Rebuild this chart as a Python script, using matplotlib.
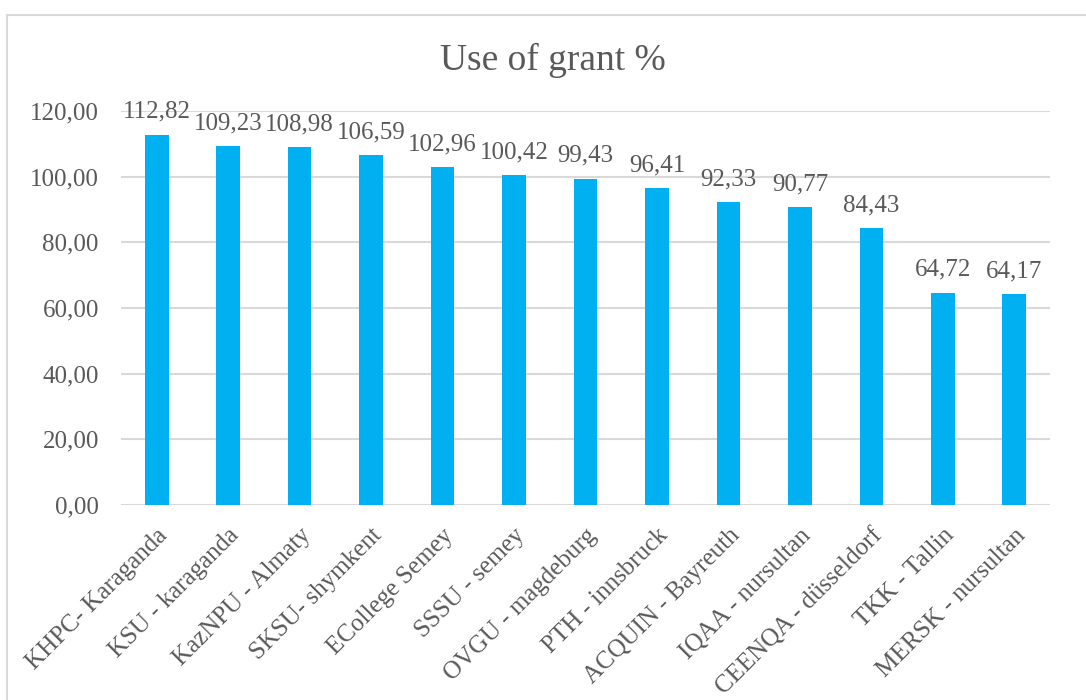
import matplotlib.pyplot as plt
from matplotlib.patches import Rectangle

institutions = ['KHPC- Karaganda', 'KSU - karaganda', 'KazNPU - Almaty', 'SKSU- shymkent',
                'ECollege Semey', 'SSSU - semey', 'OVGU - magdeburg', 'PTH - innsbruck',
                'ACQUIN - Bayreuth', 'IQAA - nursultan', 'CEENQA - düsseldorf',
                'TKK - Tallin', 'MERSK - nursultan']
grant_use = [112.82, 109.23, 108.98, 106.59, 102.96, 100.42, 99.43, 96.41,
             92.33, 90.77, 84.43, 64.72, 64.17]
y_ticks = [0, 20, 40, 60, 80, 100, 120]

txt = '#595959'
plt.rcParams['font.family'] = ['Liberation Serif', 'DejaVu Serif']

fig = plt.figure(figsize=(10.86, 7.0), dpi=100)
W, H = 1086, 700
ax = fig.add_axes([121 / W, 195 / H, (1050 - 121) / W, (505 - 111) / H])

# chart frame (runs past the right and bottom edges in the original)
fig.patches.append(Rectangle((7 / W, -0.05), 1.2, (H - 14.5) / H + 0.05,
                             transform=fig.transFigure, fill=False,
                             edgecolor='#D9D9D9', linewidth=1.5))

x = range(len(institutions))
bars = ax.bar(x, grant_use, width=0.33, color='#00B0F0', zorder=3)

for xi, v in zip(x, grant_use):
    ax.annotate(f'{v:.2f}'.replace('.', ','), (xi, v), xytext=(0, 12),
                textcoords='offset points', ha='center', va='baseline',
                fontsize=18, color=txt, annotation_clip=False)

ax.set_xlim(-0.5, len(institutions) - 0.5)
ax.set_ylim(0, 120)
ax.set_yticks(y_ticks)
ax.set_yticklabels([f'{t:.2f}'.replace('.', ',') for t in y_ticks],
                   fontsize=18, color=txt)
ax.grid(axis='y', color='#D9D9D9', linewidth=1.5, zorder=0)
ax.tick_params(axis='y', length=0, pad=16)
ax.tick_params(axis='x', length=0, pad=14)
ax.set_xticks(list(x))
ax.set_xticklabels(institutions, rotation=45, ha='right', rotation_mode='anchor',
                   fontsize=18, color=txt)
for s in ax.spines.values():
    s.set_visible(False)

fig.text(553 / W, 1 - 70 / H, 'Use of grant %', ha='center', va='baseline',
         fontsize=27, color=txt)

fig.savefig('out.png', dpi=100)
